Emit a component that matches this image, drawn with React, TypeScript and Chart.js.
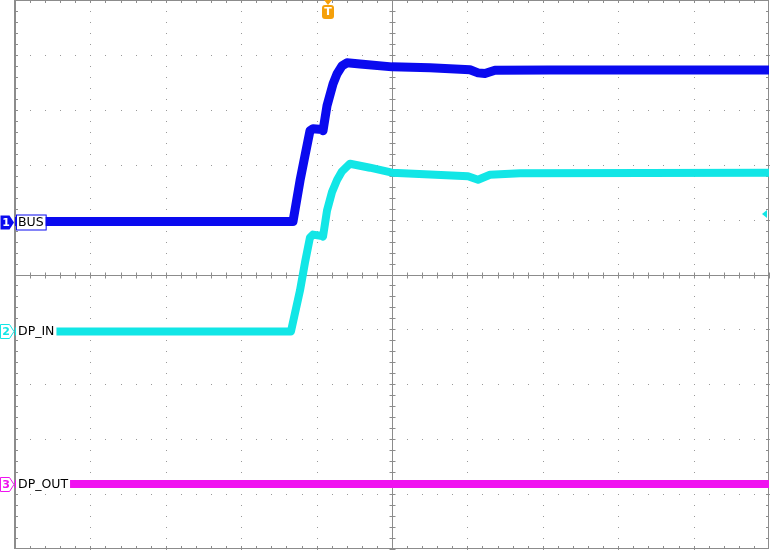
import React, { useEffect, useRef } from "react";
import { Chart, registerables } from "chart.js";

Chart.register(...registerables);

// Time in horizontal divisions (0..10), level in vertical divisions (0..10, bottom = 0)
const busTime = [0, 3.687, 3.78, 3.846, 3.912, 3.952, 4.072, 4.085, 4.138, 4.218, 4.271, 4.337, 4.403, 4.576, 5.0, 5.504, 6.034, 6.141, 6.233, 6.366, 7.095, 10];
const busLevel = [5.964, 5.964, 6.709, 7.164, 7.618, 7.655, 7.64, 7.618, 8.073, 8.473, 8.655, 8.8, 8.855, 8.836, 8.782, 8.764, 8.73, 8.673, 8.66, 8.72, 8.727, 8.727];

const dpInTime = [0, 3.66, 3.78, 3.846, 3.912, 3.952, 4.072, 4.085, 4.138, 4.204, 4.271, 4.337, 4.443, 4.708, 5.0, 5.504, 6.008, 6.141, 6.3, 6.698, 10];
const dpInLevel = [3.964, 3.964, 4.709, 5.218, 5.673, 5.727, 5.7, 5.691, 6.164, 6.5, 6.72, 6.88, 7.018, 6.945, 6.855, 6.82, 6.79, 6.727, 6.818, 6.845, 6.855];

const dpOutTime = [0, 10];
const dpOutLevel = [1.182, 1.182];

const channelNames = ["BUS", "DP_IN", "DP_OUT"];
const channelNumbers = ["1", "2", "3"];
const channelColors = ["#0a0aef", "#12e6e6", "#f012f0"];
const channelGround = [5.964, 3.964, 1.182];
const triggerTime = 4.15;
const triggerLevelCh2 = 6.11;

const toPoints = (t: number[], v: number[]) => t.map((x, i) => ({ x, y: v[i] }));

const graticulePlugin = {
  id: "graticule",
  beforeDatasetsDraw(chart: any) {
    const { ctx, chartArea: a, scales } = chart;
    const xs = scales.x;
    const ys = scales.y;
    const px = (v: number) => xs.getPixelForValue(v);
    const py = (v: number) => ys.getPixelForValue(v);
    ctx.save();
    ctx.fillStyle = "#ffffff";
    ctx.fillRect(0, 0, chart.width, chart.height);
    ctx.fillStyle = "#999999";
    for (let i = 1; i < 10; i++) {
      if (i === 5) continue;
      const x = Math.round(px(i));
      for (let m = 0; m <= 50; m++) {
        const y = Math.round(py(m / 5));
        ctx.fillRect(x, y, 1, 1);
      }
      const y = Math.round(py(i));
      for (let m = 0; m <= 50; m++) {
        const xx = Math.round(px(m / 5));
        ctx.fillRect(xx, y, 1, 1);
      }
    }
    ctx.strokeStyle = "#8c8c8c";
    ctx.lineWidth = 1;
    const cx = Math.round(px(5)) + 0.5;
    const cy = Math.round(py(5)) + 0.5;
    ctx.beginPath();
    ctx.moveTo(cx, a.top);
    ctx.lineTo(cx, a.bottom);
    ctx.moveTo(a.left, cy);
    ctx.lineTo(a.right, cy);
    for (let m = 0; m <= 50; m++) {
      const y = Math.round(py(m / 5)) + 0.5;
      ctx.moveTo(cx - 3, y);
      ctx.lineTo(cx + 3, y);
      const x = Math.round(px(m / 5)) + 0.5;
      ctx.moveTo(x, cy - 3);
      ctx.lineTo(x, cy + 3);
    }
    for (let m = 1; m < 50; m++) {
      const y = Math.round(py(m / 5)) + 0.5;
      ctx.moveTo(a.left, y);
      ctx.lineTo(a.left + 3, y);
      ctx.moveTo(a.right, y);
      ctx.lineTo(a.right - 3, y);
      const x = Math.round(px(m / 5)) + 0.5;
      ctx.moveTo(x, a.top);
      ctx.lineTo(x, a.top + 3);
      ctx.moveTo(x, a.bottom);
      ctx.lineTo(x, a.bottom - 3);
    }
    ctx.stroke();
    ctx.strokeStyle = "#8c8c8c";
    ctx.lineWidth = 1;
    ctx.strokeRect(a.left + 0.5, a.top + 0.5, a.right - a.left - 1, a.bottom - a.top - 1);
    ctx.lineWidth = 2;
    ctx.beginPath();
    ctx.moveTo(a.left, a.top);
    ctx.lineTo(a.left, a.bottom);
    ctx.stroke();
    ctx.restore();
  },
  afterDatasetsDraw(chart: any) {
    const { ctx, chartArea: a, scales } = chart;
    const xs = scales.x;
    const ys = scales.y;
    ctx.save();
    ctx.textBaseline = "middle";
    channelNames.forEach((name, i) => {
      const yc = Math.round(ys.getPixelForValue(channelGround[i])) + 0.5;
      const col = channelColors[i];
      ctx.beginPath();
      ctx.moveTo(0.5, yc - 7);
      ctx.lineTo(9.5, yc - 7);
      ctx.lineTo(14, yc);
      ctx.lineTo(9.5, yc + 7);
      ctx.lineTo(0.5, yc + 7);
      ctx.closePath();
      if (i === 0) {
        ctx.fillStyle = col;
        ctx.fill();
      } else {
        ctx.fillStyle = "#ffffff";
        ctx.fill();
        ctx.strokeStyle = col;
        ctx.lineWidth = 1;
        ctx.stroke();
      }
      ctx.font = "bold 11px 'DejaVu Sans'";
      ctx.textAlign = "center";
      ctx.fillStyle = i === 0 ? "#ffffff" : col;
      ctx.fillText(channelNumbers[i], 6, yc + 0.5);
      ctx.font = "12.5px 'DejaVu Sans'";
      ctx.textAlign = "left";
      const w = ctx.measureText(name).width;
      const bx = a.left + 1;
      ctx.fillStyle = "#ffffff";
      ctx.fillRect(bx, yc - 7.5, w + 4, 15);
      if (i === 0) {
        ctx.strokeStyle = col;
        ctx.lineWidth = 1;
        ctx.strokeRect(bx + 0.5, yc - 7.5, w + 4, 15);
      }
      ctx.fillStyle = "#000000";
      ctx.fillText(name, bx + 2, yc + 0.5);
    });
    const tx = Math.round(xs.getPixelForValue(triggerTime));
    ctx.fillStyle = "#f5a00a";
    ctx.beginPath();
    ctx.moveTo(tx - 4, a.top);
    ctx.lineTo(tx + 4, a.top);
    ctx.lineTo(tx, a.top + 5);
    ctx.closePath();
    ctx.fill();
    ctx.beginPath();
    const rx = tx - 6, ry = a.top + 5, rw = 12, rh = 14, r = 3;
    ctx.moveTo(rx + r, ry);
    ctx.lineTo(rx + rw - r, ry);
    ctx.quadraticCurveTo(rx + rw, ry, rx + rw, ry + r);
    ctx.lineTo(rx + rw, ry + rh - r);
    ctx.quadraticCurveTo(rx + rw, ry + rh, rx + rw - r, ry + rh);
    ctx.lineTo(rx + r, ry + rh);
    ctx.quadraticCurveTo(rx, ry + rh, rx, ry + rh - r);
    ctx.lineTo(rx, ry + r);
    ctx.quadraticCurveTo(rx, ry, rx + r, ry);
    ctx.fill();
    ctx.fillStyle = "#ffffff";
    ctx.font = "bold 11px 'DejaVu Sans'";
    ctx.textAlign = "center";
    ctx.fillText("T", tx, ry + rh / 2 + 0.5);
    const ty = Math.round(ys.getPixelForValue(triggerLevelCh2));
    ctx.fillStyle = channelColors[1];
    ctx.beginPath();
    ctx.moveTo(a.right - 7, ty);
    ctx.lineTo(a.right - 2, ty - 4);
    ctx.lineTo(a.right - 2, ty + 4);
    ctx.closePath();
    ctx.fill();
    ctx.restore();
  },
};

export default function App() {
  const ref = useRef<HTMLCanvasElement | null>(null);
  useEffect(() => {
    document.body.style.margin = "0";
    const canvas = ref.current;
    if (!canvas) return;
    const mk = (data: any[], color: string, width: number) => ({
      data,
      borderColor: color,
      backgroundColor: color,
      borderWidth: width,
      pointRadius: 0,
      tension: 0,
      fill: false,
      borderJoinStyle: "round" as const,
      borderCapStyle: "butt" as const,
    });
    const chart = new Chart(canvas, {
      type: "line",
      data: {
        datasets: [
          mk(toPoints(dpOutTime, dpOutLevel), channelColors[2], 8),
          mk(toPoints(dpInTime, dpInLevel), channelColors[1], 8),
          mk(toPoints(busTime, busLevel), channelColors[0], 9),
        ],
      },
      options: {
        responsive: false,
        animation: false,
        layout: { padding: { left: 15, right: 2, top: 0, bottom: 1 } },
        scales: {
          x: { type: "linear", min: 0, max: 10, display: false },
          y: { type: "linear", min: 0, max: 10, display: false },
        },
        plugins: { legend: { display: false }, tooltip: { enabled: false } },
      },
      plugins: [graticulePlugin],
    });
    return () => chart.destroy();
  }, []);
  return <canvas ref={ref} width={771} height={550} style={{ display: "block" }} />;
}
